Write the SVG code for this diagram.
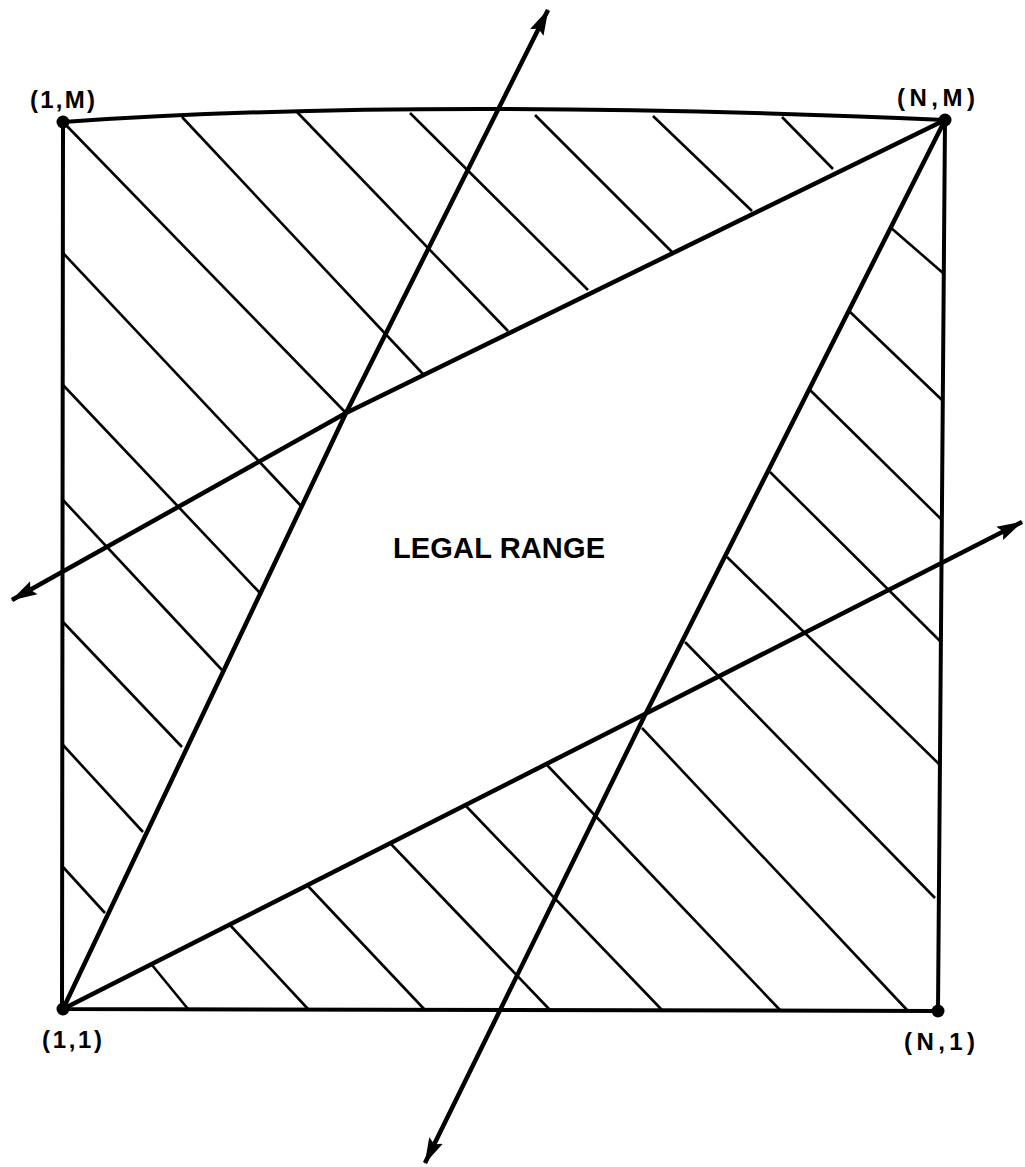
<svg xmlns="http://www.w3.org/2000/svg" width="1025" height="1167" viewBox="0 0 1025 1167">
<style>
.frame{fill:none;stroke:#000;stroke-width:4;stroke-linejoin:round}
.hatch{stroke:#000;stroke-width:2.6;fill:none}
.bound{fill:none;stroke:#000;stroke-width:4.5;stroke-linejoin:round}
.lbl{font-family:"Liberation Sans",Arial,sans-serif;font-weight:bold;font-size:24px;fill:#000}
.title{font-family:"Liberation Sans",Arial,sans-serif;font-weight:bold;font-size:29px;fill:#000}
</style>
<defs>
<marker id="arr" markerUnits="userSpaceOnUse" viewBox="0 0 26 16" markerWidth="26" markerHeight="16" refX="25" refY="8" orient="auto-start-reverse">
<path d="M0,0.5 L26,8 L0,15.5 L4,8 Z" fill="#000"/>
</marker>
</defs>
<rect width="1025" height="1167" fill="#fff"/>
<g id="frame">
<path class="frame" d="M63,122 Q420,97 945,120 L938,1011 L62,1009 Z"/>
</g>
<g id="hatching" class="hatch">
<line x1="63" y1="122" x2="346" y2="413"/>
<line x1="182" y1="117" x2="423" y2="374"/>
<line x1="297" y1="112" x2="508" y2="331"/>
<line x1="410" y1="113" x2="588" y2="290"/>
<line x1="535" y1="115" x2="672" y2="252"/>
<line x1="653" y1="116" x2="752" y2="211"/>
<line x1="782" y1="117" x2="833" y2="169"/>
<line x1="63" y1="253" x2="302" y2="507"/>
<line x1="63" y1="385" x2="260" y2="593"/>
<line x1="63" y1="500" x2="222" y2="670"/>
<line x1="63" y1="622" x2="182" y2="747"/>
<line x1="63" y1="745" x2="143" y2="832"/>
<line x1="63" y1="867" x2="105" y2="913"/>
<line x1="152" y1="965" x2="188" y2="1009"/>
<line x1="230" y1="925" x2="308" y2="1009"/>
<line x1="307" y1="885" x2="425" y2="1010"/>
<line x1="390" y1="843" x2="550" y2="1010"/>
<line x1="465" y1="805" x2="662" y2="1010"/>
<line x1="547" y1="765" x2="780" y2="1010"/>
<line x1="642" y1="728" x2="908" y2="1011"/>
<line x1="685" y1="642" x2="935" y2="898"/>
<line x1="727" y1="557" x2="940" y2="765"/>
<line x1="770" y1="472" x2="941" y2="642"/>
<line x1="810" y1="390" x2="942" y2="520"/>
<line x1="848" y1="310" x2="942" y2="400"/>
<line x1="890" y1="227" x2="943" y2="273"/>
</g>
<g id="connectors">
<path id="line-a" class="bound" d="M63,1009 L346,413 L548,10" marker-end="url(#arr)"/>
<path id="line-b" class="bound" d="M12,600 L346,413 L945,120" marker-start="url(#arr)"/>
<path id="line-c" class="bound" d="M945,120 L645,715 L425,1163" marker-end="url(#arr)"/>
<path id="line-d" class="bound" d="M63,1009 L645,714 L1022,522" marker-end="url(#arr)"/>
</g>
<g id="node-1M">
<circle cx="63" cy="122" r="6.5"/>
<text class="lbl" x="30" y="108" textLength="65" lengthAdjust="spacing">(1,M)</text>
</g>
<g id="node-NM">
<circle cx="945" cy="120" r="6.5"/>
<text class="lbl" x="897" y="106" textLength="78" lengthAdjust="spacing">(N,M)</text>
</g>
<g id="node-11">
<circle cx="63" cy="1009" r="6.5"/>
<text class="lbl" x="42" y="1048" textLength="60" lengthAdjust="spacing">(1,1)</text>
</g>
<g id="node-N1">
<circle cx="938" cy="1011" r="6.5"/>
<text class="lbl" x="904" y="1050" textLength="71" lengthAdjust="spacing">(N,1)</text>
</g>
<g id="legal-range">
<text class="title" x="393" y="558" textLength="212" lengthAdjust="spacing">LEGAL RANGE</text>
</g>
</svg>
